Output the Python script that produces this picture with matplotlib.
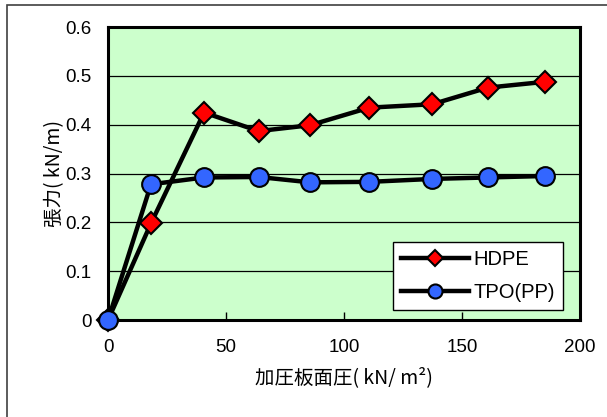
import matplotlib.pyplot as plt
from matplotlib.patches import Rectangle

plt.rcParams['font.family'] = ['Liberation Sans', 'Noto Sans CJK JP', 'DejaVu Sans']

# pressure on loading plate (kN/m2) and tension (kN/m)
pressure = [0, 18.2, 40.7, 63.8, 85.6, 110.7, 137.4, 160.9, 185.3]
hdpe = [0, 0.198, 0.425, 0.387, 0.399, 0.435, 0.442, 0.476, 0.488]
tpo = [0, 0.278, 0.292, 0.293, 0.282, 0.283, 0.289, 0.292, 0.295]
x_ticks = [0, 50, 100, 150, 200]
y_ticks = [0, 0.1, 0.2, 0.3, 0.4, 0.5, 0.6]

fig = plt.figure(figsize=(6.07, 4.17), dpi=100)
fig.patch.set_facecolor('white')

# outer chart frame
fig.patches.append(Rectangle((7 / 607, -0.05), 1.0, 0.05 + 412 / 417,
                             transform=fig.transFigure, fill=False,
                             edgecolor='#404040', lw=1.2))

ax = fig.add_axes([0.178, 0.2326, 0.7775, 0.7024])
ax.set_facecolor('#CCFFCC')

for v in y_ticks[1:-1]:
    ax.axhline(v, color='black', lw=0.9, zorder=1)

ax.plot(pressure, hdpe, color='black', lw=3.2, marker='D', ms=11.5,
        mfc='#FF0000', mec='black', mew=1.5, label='HDPE', clip_on=False, zorder=3)
ax.plot(pressure, tpo, color='black', lw=3.2, marker='o', ms=13.5,
        mfc='#3366FF', mec='black', mew=1.5, label='TPO(PP)', clip_on=False, zorder=3)

ax.set_xlim(0, 200)
ax.set_ylim(0, 0.6)
ax.set_xticks(x_ticks)
ax.set_yticks(y_ticks)
ax.set_yticklabels(['0', '0.1', '0.2', '0.3', '0.4', '0.5', '0.6'])
ax.tick_params(axis='x', direction='in', length=6, width=1, pad=14, labelsize=13.5)
ax.tick_params(axis='y', length=0, pad=12, labelsize=13.5)
for s in ax.spines.values():
    s.set_linewidth(2.2)

ax.set_xlabel('加圧板面圧( kN/ m²)', fontsize=14, labelpad=8,
              family=['Noto Sans CJK JP', 'DejaVu Sans'])
ax.set_ylabel('張力( kN/m)', fontsize=14, labelpad=0,
              family=['Noto Sans CJK JP', 'DejaVu Sans'])

leg = ax.legend(loc='lower right', bbox_to_anchor=(0.964, 0.034), borderaxespad=0,
                fontsize=14.5, fancybox=False, framealpha=1, edgecolor='black',
                handlelength=3.4, handletextpad=0.2, borderpad=0.4, labelspacing=0.7,
                markerscale=0.75)
leg.get_frame().set_linewidth(1)

fig.savefig('out.png', dpi=100)
